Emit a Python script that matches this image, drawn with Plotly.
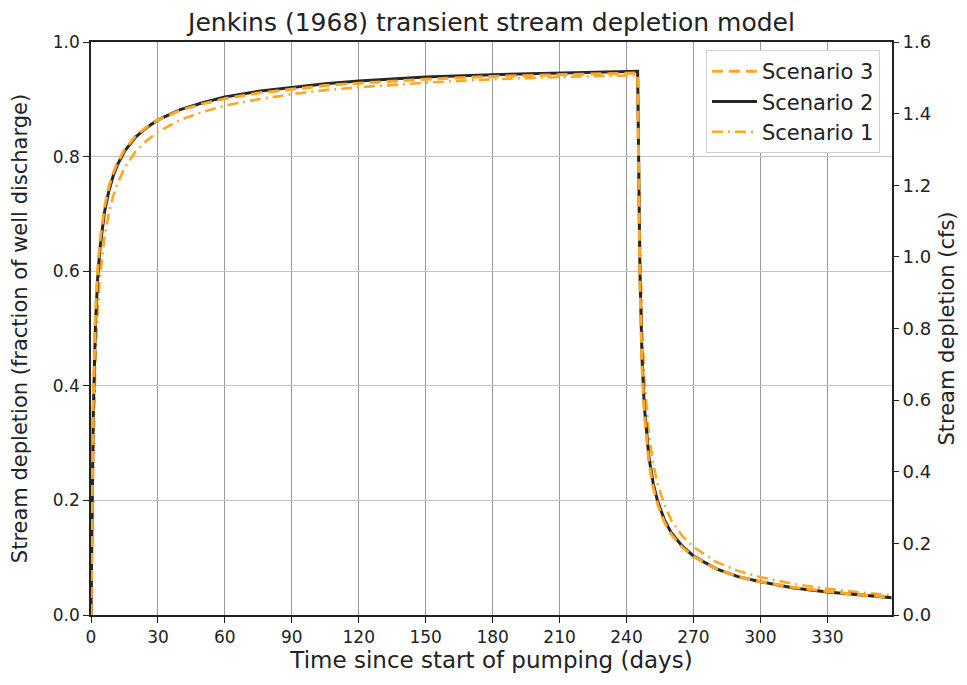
import plotly.graph_objects as go

# Time (days since start of pumping)
days = [0, 1, 2, 3, 4, 5, 6, 8, 10, 12, 15, 20, 25, 30, 40, 50, 60, 75, 90, 105,
        120, 150, 180, 210, 245,
        246, 247, 248, 249, 250, 252, 254, 257, 260, 265, 270, 280, 290, 300,
        315, 330, 345, 359]

# Stream depletion (fraction of well discharge)
scenario_1 = [0.0, 0.278, 0.443, 0.531, 0.588, 0.628, 0.658, 0.702, 0.732, 0.754,
              0.780, 0.809, 0.828, 0.843, 0.864, 0.878, 0.889, 0.900, 0.909, 0.916,
              0.921, 0.929, 0.935, 0.939, 0.942,
              0.667, 0.502, 0.414, 0.357, 0.317, 0.264, 0.228, 0.192, 0.166, 0.138,
              0.119, 0.093, 0.077, 0.066, 0.054, 0.046, 0.039, 0.035]

scenario_2 = [0.0, 0.348, 0.507, 0.588, 0.639, 0.675, 0.702, 0.740, 0.767, 0.787,
              0.809, 0.834, 0.851, 0.864, 0.882, 0.894, 0.904, 0.914, 0.921, 0.927,
              0.932, 0.939, 0.943, 0.946, 0.949,
              0.604, 0.445, 0.364, 0.313, 0.277, 0.229, 0.198, 0.166, 0.144, 0.120,
              0.103, 0.081, 0.067, 0.058, 0.047, 0.040, 0.0345, 0.030]

scenario_3 = [0.0, 0.370, 0.525, 0.603, 0.652, 0.686, 0.711, 0.747, 0.772, 0.791,
              0.812, 0.836, 0.852, 0.864, 0.881, 0.892, 0.901, 0.911, 0.918, 0.924,
              0.928, 0.935, 0.940, 0.943, 0.946,
              0.580, 0.430, 0.352, 0.303, 0.268, 0.222, 0.193, 0.162, 0.141, 0.118,
              0.102, 0.081, 0.067, 0.058, 0.048, 0.041, 0.035, 0.031]

# Well discharge used for the right axis (cfs)
well_discharge_cfs = 1.6

x_ticks = [0, 30, 60, 90, 120, 150, 180, 210, 240, 270, 300, 330]
y_ticks = [0.0, 0.2, 0.4, 0.6, 0.8, 1.0]
y2_ticks = [0.0, 0.2, 0.4, 0.6, 0.8, 1.0, 1.2, 1.4, 1.6]

ORANGE = "#FFA726"
DARK = "#262626"
REG = "DejaVu Sans, sans-serif"

fig = go.Figure()
fig.add_trace(go.Scatter(x=days, y=scenario_1, mode="lines", name="Scenario 1",
                         line=dict(color=ORANGE, width=2.6, dash="11px,5px,2px,5px")))
fig.add_trace(go.Scatter(x=days, y=scenario_2, mode="lines", name="Scenario 2",
                         line=dict(color=DARK, width=3)))
fig.add_trace(go.Scatter(x=days, y=scenario_3, mode="lines", name="Scenario 3",
                         line=dict(color=ORANGE, width=3, dash="11px,6px")))
# invisible trace carrying the right axis in cfs
fig.add_trace(go.Scatter(x=[0, 359], y=[0, well_discharge_cfs], mode="lines",
                         yaxis="y2", showlegend=False, hoverinfo="skip",
                         line=dict(color="rgba(0,0,0,0)", width=0)))

fig.update_layout(
    width=959, height=677,
    margin=dict(l=83, r=75, t=34, b=70),
    paper_bgcolor="white", plot_bgcolor="white",
    title=dict(text="Jenkins (1968) transient stream depletion model",
               x=0.5, xanchor="center", xref="paper", y=1, yref="container",
               yanchor="top", pad=dict(t=5, b=0, l=0, r=0),
               font=dict(family=REG, size=25, color="#222")),
    xaxis=dict(range=[0, 359], tickvals=x_ticks, ticks="outside", ticklen=6,
               tickcolor="#222", showline=True, linecolor="#222", linewidth=1.5,
               mirror=True, showgrid=True, gridcolor="#9a9a9a", gridwidth=1,
               zeroline=False, automargin=False,
               tickfont=dict(family=REG, size=17, color="#222"),
               title=dict(text="Time since start of pumping (days)",
                          font=dict(family=REG, size=23, color="#222"), standoff=3)),
    yaxis=dict(range=[0, 1.0], tickvals=y_ticks, tickformat=".1f", ticks="outside",
               ticklen=6, tickcolor="#222", showline=True, linecolor="#222",
               linewidth=1.5, mirror=True, showgrid=True, gridcolor="#c4c4c4",
               gridwidth=1, zeroline=False, automargin=False,
               tickfont=dict(family=REG, size=17, color="#222"),
               title=dict(text="Stream depletion (fraction of well discharge)",
                          font=dict(family=REG, size=21, color="#222"), standoff=27)),
    yaxis2=dict(range=[0, 1.6], tickvals=y2_ticks, tickformat=".1f",
                overlaying="y", side="right", ticks="outside", ticklen=6,
                tickcolor="#222", showline=False, showgrid=False, zeroline=False,
                automargin=False,
                tickfont=dict(family=REG, size=18, color="#222"),
                title=dict(text="Stream depletion (cfs)",
                           font=dict(family=REG, size=21, color="#222"), standoff=9)),
    legend=dict(x=0.985, y=0.986, xanchor="right", yanchor="top",
                traceorder="reversed", bgcolor="white", bordercolor="#d0d0d0",
                borderwidth=1, font=dict(family=REG, size=21, color="#222"),
                itemwidth=45, tracegroupgap=0),
    showlegend=True,
)

fig.write_html("out.html")
